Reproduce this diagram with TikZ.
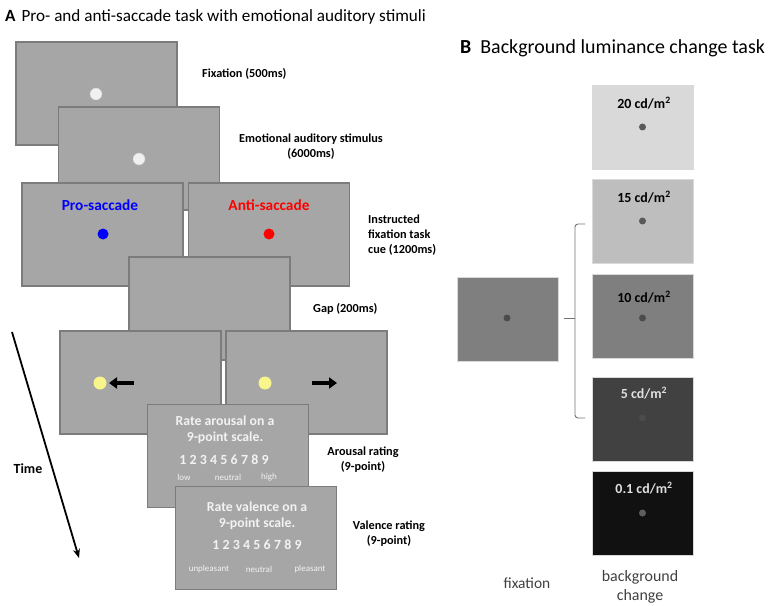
\documentclass[tikz,border=0pt]{standalone}
\usepackage{fontspec}
\setmainfont{Carlito}
\usetikzlibrary{arrows.meta}
\definecolor{scr}{HTML}{A6A6A6}
\definecolor{scrb}{HTML}{7C7C7C}
\definecolor{lum20}{HTML}{D9D9D9}
\definecolor{lum15}{HTML}{BEBEBE}
\definecolor{lum10}{HTML}{7F7F7F}
\definecolor{lum5}{HTML}{414141}
\definecolor{lum01}{HTML}{111111}
\definecolor{fixdot}{HTML}{5A5A5A}
\definecolor{ydot}{HTML}{F8F58C}
\definecolor{wtext}{HTML}{F2F2F2}
\tikzset{
  screen/.style={draw=scrb, line width=1.3bp, fill=scr, minimum width=161bp, minimum height=103bp, inner sep=0, outer sep=0},
  lumbox/.style={minimum width=101bp, minimum height=84bp, inner sep=0, outer sep=0, draw=white!85!black, line width=0.4bp},
  lbl/.style={font=\bfseries\fontsize{12.3}{15}\selectfont, align=center, inner sep=0},
  dotw/.style={circle, fill=white!94!black, draw=white!80!black, line width=0.3bp, minimum size=12bp, inner sep=0},
  dotl/.style={circle, minimum size=7bp, inner sep=0},
  ratet/.style={font=\bfseries\fontsize{13.8}{16.5}\selectfont, text=wtext, align=center, inner sep=0},
  digits/.style={font=\bfseries\fontsize{14}{16}\selectfont, text=wtext, inner sep=0},
  small/.style={font=\fontsize{9}{10}\selectfont, text=wtext, inner sep=0},
  cdl/.style={font=\bfseries\fontsize{14}{16}\selectfont, inner sep=0},
  blockarrow/.style={line width=4bp, -{Triangle[width=11bp,length=8bp]}}
}
\newcommand{\nine}{1\hspace{3.2bp}2\hspace{3.2bp}3\hspace{3.2bp}4\hspace{3.2bp}5\hspace{3.2bp}6\hspace{3.2bp}7\hspace{3.2bp}8\hspace{3.2bp}9}
\begin{document}
\begin{tikzpicture}[x=1bp,y=-1bp]
\useasboundingbox (0,0) rectangle (770,606);
% titles
\node[anchor=west, font=\fontsize{17.2}{20}\selectfont, inner sep=0] (titA) at (5,17) {\textbf{A}\hspace{6bp}Pro- and anti-saccade task with emotional auditory stimuli};
\node[anchor=west, font=\fontsize{20}{23}\selectfont, inner sep=0] (titB) at (460,48) {\textbf{B}\hspace{9bp}Background luminance change task};
% Panel A screens
\node[screen] (s1) at (96.5,93.5) {};
\node[dotw] (d1) at (96,94) {};
\node[screen] (s2) at (139,158.5) {};
\node[dotw] (d2) at (139,159) {};
\node[screen] (s3) at (102.5,234.5) {};
\node[font=\bfseries\fontsize{15.4}{18}\selectfont, text=blue, inner sep=0] (pro) at (100,205) {Pro-saccade};
\node[circle, fill=blue, minimum size=11bp, inner sep=0] (d3) at (103,234) {};
\node[screen] (s4) at (269,234.5) {};
\node[font=\bfseries\fontsize{15.4}{18}\selectfont, text=red, inner sep=0] (anti) at (269,205) {Anti-saccade};
\node[circle, fill=red, minimum size=11bp, inner sep=0] (d4) at (269,234) {};
\node[screen] (s5) at (209.5,308.5) {};
\node[screen] (s6) at (140.5,382.5) {};
\node[circle, fill=ydot, minimum size=13bp, inner sep=0] (d6) at (100,383) {};
\node[screen] (s7) at (306.5,382.5) {};
\node[circle, fill=ydot, minimum size=13bp, inner sep=0] (d7) at (265,383) {};
\coordinate (la1) at (134,383); \coordinate (la2) at (109,383);
\coordinate (ra1) at (312,383); \coordinate (ra2) at (337,383);
\draw[blockarrow] (la1) -- (la2);
\draw[blockarrow] (ra1) -- (ra2);
% arousal
\node[screen] (s8) at (228,456) {};
\node[ratet] (ar1) at (225,430) {Rate arousal on a\\9-point scale.};
\node[digits] (ar2) at (224,460) {\nine};
\node[small] (ar3) at (184,477) {low};
\node[small] (ar4) at (228,477) {neutral};
\node[small] (ar5) at (269,477) {high};
% valence
\node[screen] (s9) at (256,538) {};
\node[ratet] (va1) at (257,516) {Rate valence on a\\9-point scale.};
\node[digits] (va2) at (257,545) {\nine};
\node[small] (va3) at (209,569) {unpleasant};
\node[small] (va4) at (259,569) {neutral};
\node[small] (va5) at (310,569) {pleasant};
% labels
\node[lbl, anchor=west] (l1) at (202,74) {Fixation (500ms)};
\node[lbl] (l2) at (311,147) {Emotional auditory stimulus\\(6000ms)};
\node[lbl, anchor=north west, align=left] (l3) at (368,215) {Instructed\\fixation task\\cue (1200ms)};
\node[lbl, anchor=west] (l4) at (313,309) {Gap (200ms)};
\node[lbl] (l5) at (363,460) {Arousal rating\\(9-point)};
\node[lbl] (l6) at (389,534) {Valence rating\\(9-point)};
% time
\coordinate (t1) at (12,332); \coordinate (t2) at (79,558);
\draw[line width=1.8bp, -{Stealth[length=9bp,width=7bp]}] (t1) -- (t2);
\node[lbl, font=\bfseries\fontsize{14}{16}\selectfont] (time) at (28,469) {Time};
% Panel B
\node[lumbox, fill=lum20] (b1) at (642.5,127) {};
\node[lumbox, fill=lum15] (b2) at (642.5,221.5) {};
\node[lumbox, fill=lum10] (b3) at (642.5,316.5) {};
\node[lumbox, fill=lum5] (b4) at (642.5,419) {};
\node[lumbox, fill=lum01] (b5) at (642.5,513.5) {};
\node[lumbox, fill=lum10] (bf) at (507.5,319) {};
\node[cdl] (c1) at (644,103) {20 cd/m\textsuperscript{2}};
\node[cdl] (c2) at (644,197) {15 cd/m\textsuperscript{2}};
\node[cdl] (c3) at (644,297) {10 cd/m\textsuperscript{2}};
\node[cdl, text=white!88!black] (c4) at (644,393) {5 cd/m\textsuperscript{2}};
\node[cdl, text=white!88!black] (c5) at (644,488) {0.1 cd/m\textsuperscript{2}};
\node[dotl, fill=fixdot] (e1) at (642.5,127) {};
\node[dotl, fill=fixdot] (e2) at (642.5,221) {};
\node[dotl, fill=fixdot!85!black] (e3) at (642.5,318) {};
\node[dotl, fill=white!30!black] (e4) at (642.5,418) {};
\node[dotl, fill=white!37!black] (e5) at (642.5,513) {};
\node[dotl, fill=fixdot!85!black] (ef) at (507,318) {};
% bracket
\coordinate (br1) at (585,224); \coordinate (br2) at (575,224);
\coordinate (br3) at (575,418); \coordinate (br4) at (585,418);
\coordinate (brm) at (575,318); \coordinate (brl) at (564,318);
\draw[draw=white!45!black, line width=0.9bp, rounded corners=3bp] (br1) -- (br2) -- (br3) -- (br4);
\draw[draw=white!45!black, line width=0.9bp] (brm) -- (brl);
\node[font=\fontsize{15.5}{18}\selectfont, text=white!25!black, inner sep=0] (fx) at (527,583) {fixation};
\node[font=\fontsize{16}{19}\selectfont, text=white!25!black, align=center, inner sep=0] (bc) at (640,587) {background\\change};
\end{tikzpicture}
\end{document}
